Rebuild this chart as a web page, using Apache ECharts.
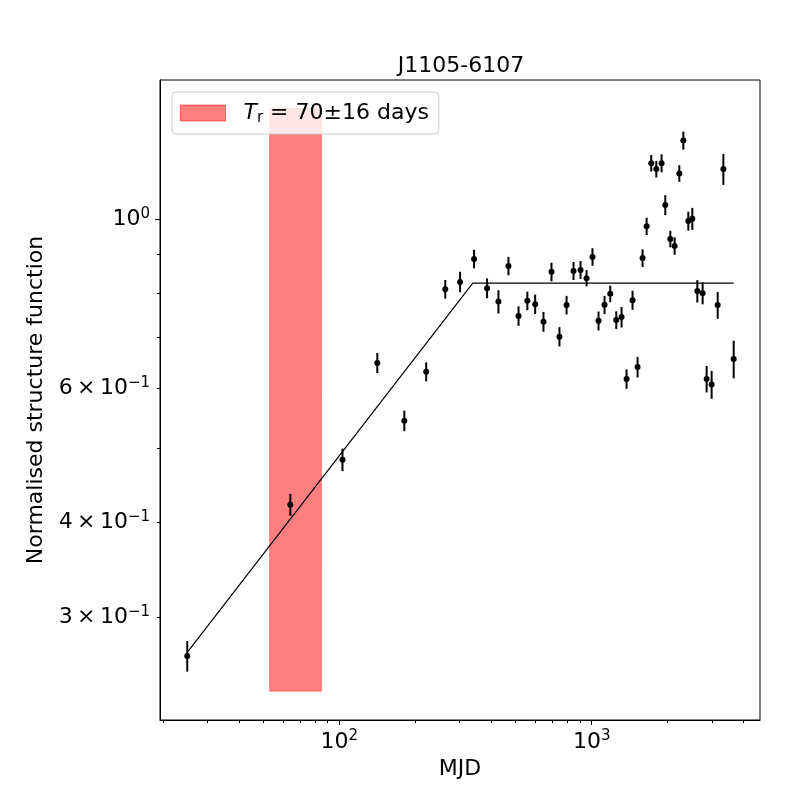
<!DOCTYPE html>
<html><head><meta charset="utf-8">
<script src="https://cdn.jsdelivr.net/npm/echarts@6/dist/echarts.min.js"></script>
<style>html,body{margin:0;padding:0;background:#fff}#c{width:800px;height:800px}</style>
</head><body><div id="c"></div>
<script>
// ---- data ----
const chartTitle = 'J1105-6107';
const lagDays = [25, 64, 103, 141.5, 181, 221, 263, 301, 342, 385, 427, 468, 513, 556, 597, 644, 693, 745, 795, 847, 903, 954, 1007, 1064, 1124, 1184, 1251, 1313, 1374, 1451, 1519, 1590, 1650, 1721, 1802, 1891, 1956, 2048, 2130, 2223, 2306, 2413, 2503, 2620, 2750, 2852, 2985, 3154, 3322, 3650];
const sfValues = [0.267, 0.422, 0.4835, 0.648, 0.544, 0.631, 0.810, 0.828, 0.8875, 0.8125, 0.780, 0.869, 0.747, 0.782, 0.774, 0.734, 0.8535, 0.7015, 0.772, 0.856, 0.8586, 0.8374, 0.893, 0.736, 0.7724, 0.7987, 0.7377, 0.7444, 0.6173, 0.7835, 0.640, 0.890, 0.9797, 1.1858, 1.1648, 1.1858, 1.0447, 0.9428, 0.9231, 1.1496, 1.270, 0.9954, 1.0024, 0.8052, 0.8003, 0.6173, 0.6069, 0.7718, 1.1648, 0.6557];
const sfErrors = [0.0123, 0.0140, 0.0165, 0.0196, 0.0169, 0.0181, 0.0227, 0.0257, 0.0249, 0.0245, 0.0275, 0.0241, 0.0219, 0.0219, 0.0227, 0.0221, 0.0240, 0.0205, 0.0217, 0.0233, 0.0233, 0.0207, 0.0237, 0.0211, 0.0210, 0.0200, 0.0196, 0.0231, 0.0181, 0.0225, 0.0199, 0.0236, 0.0257, 0.0297, 0.0292, 0.0322, 0.0315, 0.0236, 0.0245, 0.0288, 0.0345, 0.0285, 0.0333, 0.0272, 0.0266, 0.0246, 0.0256, 0.0314, 0.0545, 0.0372];
const fitLagDays = [25, 338, 3650];
const fitValues = [0.270, 0.825, 0.825];
const bandLagDays = [53, 85];
const bandValues = [0.24, 1.4];
const bandLabel = 'Tr';
const xTickValues = [100, 1000];
const xMinorTickValues = [20, 30, 40, 50, 60, 70, 80, 90, 200, 300, 400, 500, 600, 700, 800, 900, 2000, 3000, 4000];
const yMajorTickValues = [1];
const yLabelValues = [0.3, 0.4, 0.6, 1];
const yMinorTickValues = [0.3, 0.4, 0.5, 0.6, 0.7, 0.8, 0.9];

// ---- chart ----
const FONT = 'DejaVu Sans';
const richLabel = {
  b: { fontFamily: FONT, fontSize: 22, color: '#000', lineHeight: 26 },
  sup: { fontFamily: FONT, fontSize: 15, color: '#000', verticalAlign: 'top', lineHeight: 16 }
};
function sciLabel(v) {
  const e = Math.floor(Math.log10(v) + 1e-9);
  const m = Math.round(v / Math.pow(10, e));
  const exp = e < 0 ? '\u2212' + (-e) : String(e);
  return (m === 1 ? '{b|10}' : '{b|' + m + '\u2009\u00d7\u200910}') + '{sup|' + exp + '}';
}

const chart = echarts.init(document.getElementById('c'), null, { renderer: 'canvas' });
const option = {
  animation: false,
  backgroundColor: '#fff',
  title: {
    text: chartTitle, left: 456, top: 50, textAlign: 'center',
    textStyle: { fontFamily: FONT, fontSize: 22, fontWeight: 'normal', color: '#000' }
  },
  legend: {
    left: 172, top: 92, orient: 'vertical',
    padding: [8, 10, 8, 8],
    itemWidth: 45, itemHeight: 16,
    backgroundColor: 'rgba(255,255,255,0.8)', borderColor: '#cccccc', borderWidth: 1, borderRadius: 4,
    data: [{ name: bandLabel, icon: 'rect', itemStyle: { color: 'rgba(255,0,0,0.5)', borderColor: 'rgba(255,0,0,0.5)', borderWidth: 1 } }],
    formatter: () => '{i|T}{s|r}{t| = 70\u00b116 days}',
    textStyle: {
      lineHeight: 24,
      rich: {
        i: { fontFamily: FONT, fontSize: 22, fontStyle: 'italic', color: '#000', padding: [0, 0, 0, 13], lineHeight: 26 },
        s: { fontFamily: FONT, fontSize: 15, color: '#000', verticalAlign: 'bottom', lineHeight: 12 },
        t: { fontFamily: FONT, fontSize: 22, color: '#000', lineHeight: 26 }
      }
    }
  },
  grid: { left: 160, right: 40, top: 80, bottom: 80, show: true, borderColor: '#000', borderWidth: 1, backgroundColor: 'transparent' },
  xAxis: [{
    type: 'log', logBase: 10, min: 19.5, max: 4640, position: 'bottom',
    axisLine: { show: true, lineStyle: { color: '#000', width: 1 } },
    axisTick: { show: true, customValues: xTickValues, length: 5, lineStyle: { color: '#000', width: 1 } },
    axisLabel: { customValues: xTickValues, formatter: sciLabel, rich: richLabel, margin: 9 },
    splitLine: { show: false }, minorTick: { show: false },
    name: 'MJD', nameLocation: 'middle', nameGap: 36,
    nameTextStyle: { fontFamily: FONT, fontSize: 22, color: '#000' }
  }, {
    type: 'log', logBase: 10, min: 19.5, max: 4640, position: 'bottom',
    axisLine: { show: false },
    axisTick: { show: true, customValues: xMinorTickValues, length: 3, lineStyle: { color: '#000', width: 1 } },
    axisLabel: { show: false }, splitLine: { show: false }
  }],
  yAxis: [{
    type: 'log', logBase: 10, min: 0.22, max: 1.525, position: 'left',
    axisLine: { show: true, lineStyle: { color: '#000', width: 1 } },
    axisTick: { show: true, customValues: yMajorTickValues, length: 5, lineStyle: { color: '#000', width: 1 } },
    axisLabel: { customValues: yLabelValues, formatter: sciLabel, rich: richLabel, margin: 10 },
    splitLine: { show: false },
    name: 'Normalised structure function', nameLocation: 'middle', nameGap: 103,
    nameTextStyle: { fontFamily: FONT, fontSize: 22, color: '#000' }
  }, {
    type: 'log', logBase: 10, min: 0.22, max: 1.525, position: 'left',
    axisLine: { show: false },
    axisTick: { show: true, customValues: yMinorTickValues, length: 3, lineStyle: { color: '#000', width: 1 } },
    axisLabel: { show: false }, splitLine: { show: false }
  }],
  series: [{
    name: bandLabel, type: 'custom', xAxisIndex: 0, yAxisIndex: 0, z: 1,
    data: [[bandLagDays[0], bandLagDays[1], bandValues[0], bandValues[1]]],
    encode: { x: [0, 1], y: [2, 3] },
    renderItem: (params, api) => {
      const p0 = api.coord([api.value(0), api.value(3)]);
      const p1 = api.coord([api.value(1), api.value(2)]);
      return { type: 'rect', shape: { x: p0[0], y: p0[1], width: p1[0] - p0[0], height: p1[1] - p0[1] },
        style: { fill: 'rgba(255,0,0,0.5)', stroke: 'rgba(255,0,0,0.35)', lineWidth: 1 } };
    }
  }, {
    type: 'line', xAxisIndex: 0, yAxisIndex: 0, z: 3,
    data: fitLagDays.map((d, i) => [d, fitValues[i]]),
    showSymbol: false, symbol: 'none',
    lineStyle: { color: '#000', width: 1.2 }
  }, {
    type: 'custom', xAxisIndex: 0, yAxisIndex: 0, z: 4,
    data: lagDays.map((d, i) => [d, sfValues[i], sfErrors[i]]),
    encode: { x: 0, y: 1 },
    renderItem: (params, api) => {
      const x = api.value(0), y = api.value(1), e = api.value(2);
      const a = api.coord([x, y - e]), b = api.coord([x, y + e]);
      return { type: 'line', shape: { x1: a[0], y1: a[1], x2: b[0], y2: b[1] }, style: { stroke: '#000', lineWidth: 2 } };
    }
  }, {
    type: 'scatter', xAxisIndex: 0, yAxisIndex: 0, z: 5,
    data: lagDays.map((d, i) => [d, sfValues[i]]),
    symbol: 'circle', symbolSize: 6,
    itemStyle: { color: '#000', opacity: 1 }
  }]
};
chart.setOption(option);
</script>
</body></html>
